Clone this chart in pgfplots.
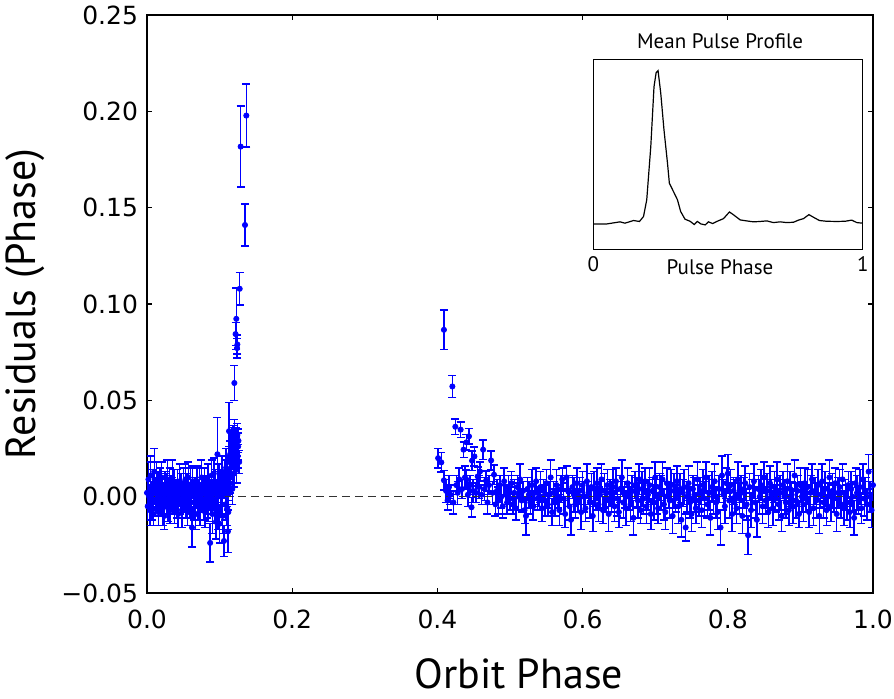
\documentclass[border=0pt]{standalone}
\usepackage{fontspec}
\setmainfont{PT Sans}
\newfontfamily\dejavu{DejaVu Sans}
\usepackage{pgfplots}
\pgfplotsset{compat=1.18}
\pgfplotsset{
  resid/.style={color=blue,only marks,mark=*,mark size=1.3pt,mark options={fill=blue,draw=blue},
    error bars/.cd,y dir=both,y explicit,
    error bar style={line width=0.75pt,color=blue},
    error mark=|,
    error mark options={color=blue,mark size=2pt,line width=0.75pt}},
}

\begin{document}
\begin{tikzpicture}
\useasboundingbox (-73.5pt,-52.5pt) rectangle (373.5pt,296.5pt);
\begin{axis}[
  width=363pt,height=289pt,scale only axis,
  xmin=0,xmax=1,ymin=-0.05,ymax=0.25,
  xtick={0,0.2,0.4,0.6,0.8,1},
  xticklabels={0.0,0.2,0.4,0.6,0.8,1.0},
  ytick={-0.05,0,0.05,0.1,0.15,0.2,0.25},
  yticklabels={−0.05,0.00,0.05,0.10,0.15,0.20,0.25},
  tick align=inside,major tick length=2.5pt,
  tick style={black,line width=0.6pt},
  axis line style={line width=0.7pt},
  ticklabel style={font=\dejavu\fontsize{12.5}{15}\selectfont},
  xticklabel style={yshift=-5pt},
  yticklabel style={xshift=-1pt},
  xlabel={Orbit Phase},
  xlabel style={font=\fontsize{21}{25}\selectfont,at={(axis description cs:0.512,-0.1644)},anchor=base},
  ylabel={Residuals (Phase)},
  ylabel style={font=\fontsize{21}{25}\selectfont,at={(axis description cs:-0.153,0.5)},anchor=base},
  clip=true,
]
% early part of the orbit
\addplot[resid] coordinates {
(0.000,0.002)+-(0,0.008) (0.001,-0.005)+-(0,0.007) (0.002,0.009)+-(0,0.009) (0.003,0.000)+-(0,0.006) (0.004,-0.007)+-(0,0.008)
(0.005,0.011)+-(0,0.010) (0.006,0.001)+-(0,0.007) (0.007,-0.003)+-(0,0.009) (0.008,0.006)+-(0,0.008) (0.009,-0.009)+-(0,0.006)
(0.010,0.013)+-(0,0.012) (0.011,0.003)+-(0,0.007) (0.012,-0.002)+-(0,0.008) (0.013,0.008)+-(0,0.010) (0.014,-0.001)+-(0,0.006)
(0.015,0.004)+-(0,0.009) (0.016,-0.008)+-(0,0.007) (0.017,0.000)+-(0,0.008) (0.018,0.006)+-(0,0.009) (0.019,-0.004)+-(0,0.006)
(0.020,0.010)+-(0,0.008) (0.021,0.002)+-(0,0.007) (0.022,-0.006)+-(0,0.009) (0.023,0.001)+-(0,0.006) (0.024,-0.010)+-(0,0.007)
(0.025,0.005)+-(0,0.008) (0.026,0.003)+-(0,0.009) (0.027,-0.002)+-(0,0.007) (0.028,0.009)+-(0,0.010) (0.029,-0.005)+-(0,0.008)
(0.030,0.000)+-(0,0.006) (0.031,0.007)+-(0,0.008) (0.032,-0.007)+-(0,0.007) (0.033,0.002)+-(0,0.009) (0.034,0.004)+-(0,0.006)
(0.035,0.009)+-(0,0.010) (0.036,-0.001)+-(0,0.008) (0.037,0.007)+-(0,0.007) (0.038,-0.006)+-(0,0.008) (0.039,0.003)+-(0,0.006)
(0.040,0.000)+-(0,0.009) (0.041,-0.004)+-(0,0.007) (0.042,0.006)+-(0,0.008) (0.043,-0.009)+-(0,0.007) (0.044,0.001)+-(0,0.006)
(0.045,0.008)+-(0,0.009) (0.046,-0.002)+-(0,0.007) (0.047,0.004)+-(0,0.008) (0.048,-0.007)+-(0,0.009) (0.049,0.002)+-(0,0.006)
(0.050,0.007)+-(0,0.008) (0.051,-0.001)+-(0,0.007) (0.052,0.000)+-(0,0.008) (0.053,0.009)+-(0,0.008) (0.054,-0.005)+-(0,0.006)
(0.055,0.003)+-(0,0.009) (0.056,-0.008)+-(0,0.007) (0.057,0.010)+-(0,0.008) (0.058,0.001)+-(0,0.006) (0.059,-0.003)+-(0,0.008)
(0.060,0.006)+-(0,0.009) (0.061,0.000)+-(0,0.007) (0.062,-0.016)+-(0,0.010) (0.063,0.008)+-(0,0.008) (0.064,0.002)+-(0,0.007)
(0.065,-0.003)+-(0,0.009) (0.066,0.004)+-(0,0.006) (0.067,-0.009)+-(0,0.008) (0.068,0.001)+-(0,0.007) (0.069,0.007)+-(0,0.009)
(0.070,-0.004)+-(0,0.008) (0.071,0.003)+-(0,0.006) (0.072,0.005)+-(0,0.010) (0.073,-0.007)+-(0,0.008) (0.074,0.000)+-(0,0.007)
(0.075,0.010)+-(0,0.009) (0.076,-0.002)+-(0,0.006) (0.077,0.002)+-(0,0.008) (0.078,-0.005)+-(0,0.007) (0.079,0.006)+-(0,0.009)
(0.080,-0.008)+-(0,0.008) (0.081,0.004)+-(0,0.007) (0.082,0.001)+-(0,0.010) (0.083,-0.003)+-(0,0.008) (0.084,0.008)+-(0,0.009)
(0.085,-0.006)+-(0,0.007) (0.086,0.003)+-(0,0.008) (0.087,-0.024)+-(0,0.010) (0.088,0.000)+-(0,0.009) (0.089,0.011)+-(0,0.008)
(0.090,-0.009)+-(0,0.010) (0.091,0.002)+-(0,0.007) (0.092,0.012)+-(0,0.008) (0.093,-0.005)+-(0,0.009) (0.094,0.004)+-(0,0.010)
(0.095,-0.013)+-(0,0.009) (0.096,0.001)+-(0,0.008) (0.097,0.022)+-(0,0.019) (0.098,-0.007)+-(0,0.010) (0.099,0.008)+-(0,0.009)
(0.100,-0.014)+-(0,0.010) (0.101,0.005)+-(0,0.008) (0.102,0.000)+-(0,0.009) (0.103,0.013)+-(0,0.008) (0.104,-0.010)+-(0,0.009)
(0.105,0.006)+-(0,0.007) (0.106,-0.023)+-(0,0.008) (0.107,0.009)+-(0,0.010) (0.108,-0.004)+-(0,0.008) (0.109,0.015)+-(0,0.010)
(0.110,0.003)+-(0,0.008) (0.1105,-0.006)+-(0,0.009) (0.111,0.012)+-(0,0.009) (0.1115,-0.018)+-(0,0.011) (0.112,-0.008)+-(0,0.009)
(0.1125,0.006)+-(0,0.008) (0.113,0.034)+-(0,0.015) (0.1135,0.018)+-(0,0.008) (0.114,0.007)+-(0,0.007) (0.1145,0.022)+-(0,0.007)
(0.115,0.010)+-(0,0.008) (0.1155,0.026)+-(0,0.008) (0.116,0.015)+-(0,0.006) (0.1165,0.029)+-(0,0.007) (0.117,0.020)+-(0,0.006)
(0.1175,0.004)+-(0,0.008) (0.118,0.024)+-(0,0.007) (0.1185,0.031)+-(0,0.006) (0.119,0.017)+-(0,0.006) (0.1195,0.027)+-(0,0.007)
(0.120,0.012)+-(0,0.007) (0.1205,0.033)+-(0,0.007) (0.121,0.022)+-(0,0.006) (0.1215,0.028)+-(0,0.006) (0.122,0.019)+-(0,0.007)
(0.1225,0.030)+-(0,0.006) (0.123,0.025)+-(0,0.006) (0.1235,0.014)+-(0,0.007) (0.124,0.027)+-(0,0.006) (0.1245,0.032)+-(0,0.006)
(0.125,0.021)+-(0,0.006) (0.1255,0.026)+-(0,0.007) (0.126,0.029)+-(0,0.006) (0.127,0.018)+-(0,0.006)
(0.1203,0.059)+-(0,0.009) (0.122,0.0844)+-(0,0.006) (0.123,0.0923)+-(0,0.016) (0.124,0.0771)+-(0,0.005) (0.1245,0.079)+-(0,0.005)
(0.1277,0.1079)+-(0,0.0084) (0.129,0.1817)+-(0,0.021) (0.1368,0.1978)+-(0,0.0164) (0.135,0.141)+-(0,0.011)
};
% later part of the orbit
\addplot[resid] coordinates {
(0.401,0.020)+-(0,0.005) (0.4054,0.0178)+-(0,0.005) (0.409,0.0866)+-(0,0.0102) (0.409,0.0085)+-(0,0.005) (0.412,0.003)+-(0,0.006)
(0.414,-0.002)+-(0,0.005) (0.416,0.005)+-(0,0.006) (0.418,0.001)+-(0,0.005) (0.4206,0.0572)+-(0,0.0056) (0.422,-0.003)+-(0,0.006)
(0.4247,0.0363)+-(0,0.004) (0.426,0.006)+-(0,0.005) (0.428,0.002)+-(0,0.006) (0.430,0.009)+-(0,0.006) (0.432,0.0348)+-(0,0.004)
(0.434,0.004)+-(0,0.005) (0.436,0.0244)+-(0,0.004) (0.438,0.010)+-(0,0.006) (0.440,0.0282)+-(0,0.004) (0.440,0.0088)+-(0,0.005)
(0.442,0.001)+-(0,0.006) (0.4435,0.0313)+-(0,0.004) (0.445,0.006)+-(0,0.005) (0.447,-0.0055)+-(0,0.005) (0.4477,0.0187)+-(0,0.005)
(0.449,0.003)+-(0,0.006) (0.451,0.0209)+-(0,0.005) (0.453,0.002)+-(0,0.005) (0.4555,0.0105)+-(0,0.005) (0.457,0.005)+-(0,0.006)
(0.4587,0.0131)+-(0,0.005) (0.461,0.001)+-(0,0.005) (0.463,0.0244)+-(0,0.005) (0.465,0.004)+-(0,0.006) (0.467,0.0083)+-(0,0.005)
(0.469,-0.003)+-(0,0.006) (0.471,0.006)+-(0,0.005) (0.474,0.0188)+-(0,0.005) (0.476,0.002)+-(0,0.006) (0.478,0.0114)+-(0,0.005)
(0.480,-0.004)+-(0,0.006)
(0.482,0.003)+-(0,0.006) (0.484,-0.002)+-(0,0.007) (0.486,0.006)+-(0,0.005) (0.488,0.000)+-(0,0.006) (0.490,-0.005)+-(0,0.006)
(0.492,0.008)+-(0,0.007) (0.494,0.001)+-(0,0.005) (0.496,-0.003)+-(0,0.006) (0.498,0.004)+-(0,0.007) (0.500,-0.001)+-(0,0.006)
(0.502,0.007)+-(0,0.006) (0.504,-0.004)+-(0,0.005) (0.506,0.002)+-(0,0.007) (0.508,-0.006)+-(0,0.006) (0.510,0.005)+-(0,0.006)
(0.512,0.000)+-(0,0.007) (0.514,0.009)+-(0,0.008) (0.516,-0.002)+-(0,0.006) (0.518,0.003)+-(0,0.005) (0.520,-0.007)+-(0,0.007)
(0.522,-0.010)+-(0,0.010) (0.524,0.004)+-(0,0.006) (0.526,0.001)+-(0,0.007) (0.528,-0.003)+-(0,0.006) (0.530,0.006)+-(0,0.008)
(0.532,-0.005)+-(0,0.007) (0.534,0.002)+-(0,0.006) (0.536,0.008)+-(0,0.007) (0.538,-0.001)+-(0,0.006) (0.540,0.000)+-(0,0.005)
(0.542,0.005)+-(0,0.008) (0.544,-0.006)+-(0,0.007) (0.546,0.003)+-(0,0.006) (0.548,-0.002)+-(0,0.008) (0.550,0.007)+-(0,0.007)
(0.552,-0.004)+-(0,0.006) (0.554,0.001)+-(0,0.007) (0.556,0.010)+-(0,0.009) (0.558,-0.008)+-(0,0.007) (0.560,0.002)+-(0,0.006)
(0.562,-0.003)+-(0,0.007) (0.564,0.006)+-(0,0.008) (0.566,0.000)+-(0,0.006) (0.568,-0.007)+-(0,0.008) (0.570,0.004)+-(0,0.007)
(0.572,0.009)+-(0,0.006) (0.574,-0.001)+-(0,0.008) (0.576,-0.009)+-(0,0.007) (0.578,0.010)+-(0,0.006) (0.580,0.003)+-(0,0.008)
(0.582,-0.005)+-(0,0.007) (0.584,-0.012)+-(0,0.008) (0.586,0.005)+-(0,0.006) (0.588,0.001)+-(0,0.009) (0.590,-0.004)+-(0,0.007)
(0.592,0.007)+-(0,0.008) (0.594,-0.002)+-(0,0.006) (0.596,0.003)+-(0,0.007) (0.598,-0.008)+-(0,0.009) (0.600,0.006)+-(0,0.007)
(0.602,0.000)+-(0,0.008) (0.604,-0.006)+-(0,0.007) (0.606,0.008)+-(0,0.009) (0.608,0.002)+-(0,0.006) (0.610,-0.003)+-(0,0.008)
(0.612,0.005)+-(0,0.007) (0.614,-0.010)+-(0,0.008) (0.616,0.004)+-(0,0.009) (0.618,-0.001)+-(0,0.006) (0.620,0.007)+-(0,0.008)
(0.622,-0.004)+-(0,0.009) (0.624,0.001)+-(0,0.007) (0.626,0.009)+-(0,0.008) (0.628,-0.007)+-(0,0.007) (0.630,0.003)+-(0,0.009)
(0.632,-0.002)+-(0,0.006) (0.634,0.006)+-(0,0.008) (0.636,-0.009)+-(0,0.009) (0.638,0.002)+-(0,0.007) (0.640,0.000)+-(0,0.008)
(0.642,0.005)+-(0,0.009) (0.644,-0.005)+-(0,0.008) (0.646,0.008)+-(0,0.007) (0.648,-0.001)+-(0,0.009) (0.650,-0.008)+-(0,0.008)
(0.652,0.004)+-(0,0.007) (0.654,0.010)+-(0,0.009) (0.656,-0.003)+-(0,0.008) (0.658,0.001)+-(0,0.007) (0.660,-0.006)+-(0,0.009)
(0.662,0.007)+-(0,0.008) (0.664,0.000)+-(0,0.007) (0.666,-0.004)+-(0,0.009) (0.668,0.003)+-(0,0.008) (0.670,-0.011)+-(0,0.009)
(0.672,0.006)+-(0,0.007) (0.674,0.002)+-(0,0.008) (0.676,-0.002)+-(0,0.009) (0.678,0.009)+-(0,0.008) (0.680,-0.007)+-(0,0.007)
(0.682,0.004)+-(0,0.009) (0.684,-0.001)+-(0,0.008) (0.686,0.008)+-(0,0.007) (0.688,-0.005)+-(0,0.009) (0.690,0.001)+-(0,0.008)
(0.692,0.006)+-(0,0.009) (0.694,-0.009)+-(0,0.008) (0.696,0.003)+-(0,0.007) (0.698,-0.003)+-(0,0.009) (0.700,0.010)+-(0,0.008)
(0.702,0.000)+-(0,0.009) (0.704,-0.006)+-(0,0.008) (0.706,0.005)+-(0,0.007) (0.708,0.002)+-(0,0.009) (0.710,0.009)+-(0,0.009)
(0.712,-0.004)+-(0,0.008) (0.714,-0.008)+-(0,0.009) (0.716,0.007)+-(0,0.008) (0.718,0.001)+-(0,0.007) (0.720,-0.002)+-(0,0.009)
(0.722,0.006)+-(0,0.008) (0.724,-0.010)+-(0,0.009) (0.726,0.003)+-(0,0.009) (0.728,-0.001)+-(0,0.007) (0.730,0.008)+-(0,0.008)
(0.732,-0.005)+-(0,0.009) (0.734,0.004)+-(0,0.008) (0.736,-0.012)+-(0,0.009) (0.738,0.002)+-(0,0.007) (0.740,0.005)+-(0,0.009)
(0.742,-0.016)+-(0,0.007) (0.744,0.000)+-(0,0.008) (0.746,0.007)+-(0,0.009) (0.748,-0.003)+-(0,0.008) (0.750,-0.009)+-(0,0.009)
(0.752,0.004)+-(0,0.007) (0.754,0.001)+-(0,0.009) (0.756,-0.006)+-(0,0.008) (0.758,0.009)+-(0,0.009) (0.760,-0.002)+-(0,0.008)
(0.762,0.003)+-(0,0.007) (0.764,-0.007)+-(0,0.009) (0.766,0.006)+-(0,0.008) (0.768,-0.001)+-(0,0.009) (0.770,0.010)+-(0,0.008)
(0.772,-0.004)+-(0,0.007) (0.774,0.002)+-(0,0.009) (0.776,-0.011)+-(0,0.009) (0.778,0.005)+-(0,0.008) (0.780,0.000)+-(0,0.009)
(0.782,0.008)+-(0,0.009) (0.784,-0.003)+-(0,0.008) (0.786,-0.008)+-(0,0.009) (0.788,0.004)+-(0,0.007) (0.790,-0.016)+-(0,0.009)
(0.792,0.011)+-(0,0.010) (0.794,0.001)+-(0,0.008) (0.796,-0.005)+-(0,0.009) (0.798,0.007)+-(0,0.008) (0.800,0.012)+-(0,0.010)
(0.802,-0.002)+-(0,0.009) (0.804,0.006)+-(0,0.008) (0.806,-0.009)+-(0,0.009) (0.808,0.003)+-(0,0.007) (0.810,0.000)+-(0,0.009)
(0.812,-0.006)+-(0,0.008) (0.814,0.009)+-(0,0.009) (0.816,-0.001)+-(0,0.008) (0.818,0.004)+-(0,0.007) (0.820,-0.010)+-(0,0.009)
(0.822,0.002)+-(0,0.008) (0.824,0.007)+-(0,0.009) (0.826,-0.004)+-(0,0.008) (0.828,-0.020)+-(0,0.010) (0.830,0.005)+-(0,0.007)
(0.832,-0.007)+-(0,0.009) (0.834,0.001)+-(0,0.008) (0.836,0.008)+-(0,0.009) (0.838,-0.003)+-(0,0.008) (0.840,-0.012)+-(0,0.009)
(0.842,0.004)+-(0,0.007) (0.844,0.000)+-(0,0.009) (0.846,0.006)+-(0,0.008) (0.848,-0.005)+-(0,0.009) (0.850,0.010)+-(0,0.008)
(0.852,-0.002)+-(0,0.007) (0.854,0.003)+-(0,0.009) (0.856,-0.008)+-(0,0.008) (0.858,0.007)+-(0,0.009) (0.860,0.001)+-(0,0.008)
(0.862,-0.006)+-(0,0.009) (0.864,0.005)+-(0,0.008) (0.866,-0.001)+-(0,0.007) (0.868,0.009)+-(0,0.009) (0.870,-0.004)+-(0,0.008)
(0.872,0.002)+-(0,0.009) (0.874,-0.010)+-(0,0.008) (0.876,0.006)+-(0,0.007) (0.878,0.000)+-(0,0.009) (0.880,-0.003)+-(0,0.008)
(0.882,0.008)+-(0,0.009) (0.884,-0.007)+-(0,0.008) (0.886,0.004)+-(0,0.009) (0.888,0.001)+-(0,0.007) (0.890,-0.005)+-(0,0.009)
(0.892,0.011)+-(0,0.008) (0.894,-0.002)+-(0,0.009) (0.896,0.003)+-(0,0.008) (0.898,-0.009)+-(0,0.007) (0.900,0.006)+-(0,0.009)
(0.902,0.000)+-(0,0.008) (0.904,-0.004)+-(0,0.009) (0.906,0.007)+-(0,0.008) (0.908,-0.001)+-(0,0.007) (0.910,0.005)+-(0,0.009)
(0.912,-0.008)+-(0,0.008) (0.914,0.002)+-(0,0.009) (0.916,0.009)+-(0,0.008) (0.918,-0.006)+-(0,0.009) (0.920,0.003)+-(0,0.007)
(0.922,-0.002)+-(0,0.009) (0.924,0.006)+-(0,0.008) (0.926,-0.010)+-(0,0.009) (0.928,0.001)+-(0,0.007) (0.930,0.008)+-(0,0.009)
(0.932,-0.003)+-(0,0.008) (0.934,0.004)+-(0,0.009) (0.936,-0.007)+-(0,0.008) (0.938,0.000)+-(0,0.007) (0.940,0.010)+-(0,0.009)
(0.942,-0.005)+-(0,0.008) (0.944,0.003)+-(0,0.009) (0.946,-0.001)+-(0,0.007) (0.948,0.007)+-(0,0.008) (0.950,-0.009)+-(0,0.009)
(0.952,0.002)+-(0,0.008) (0.954,0.005)+-(0,0.009) (0.956,-0.004)+-(0,0.007) (0.958,0.009)+-(0,0.008) (0.960,-0.006)+-(0,0.009)
(0.962,0.001)+-(0,0.008) (0.964,-0.003)+-(0,0.009) (0.966,0.006)+-(0,0.007) (0.968,-0.008)+-(0,0.008) (0.970,0.004)+-(0,0.009)
(0.972,0.000)+-(0,0.008) (0.974,-0.011)+-(0,0.009) (0.976,0.007)+-(0,0.008) (0.978,0.002)+-(0,0.009) (0.980,-0.002)+-(0,0.007)
(0.982,0.005)+-(0,0.009) (0.984,-0.006)+-(0,0.008) (0.986,0.009)+-(0,0.008) (0.988,-0.001)+-(0,0.009) (0.990,0.003)+-(0,0.007)
(0.992,-0.004)+-(0,0.008) (0.994,0.013)+-(0,0.009) (0.996,0.000)+-(0,0.008) (0.998,-0.007)+-(0,0.009) (1.000,0.006)+-(0,0.008)
};
\addplot[black!80,line width=0.5pt,dash pattern=on 4pt off 2.5pt] coordinates {(0,0) (1,0)};
\end{axis}

\begin{axis}[
  at={(223.2pt,171.9pt)},anchor=south west,
  width=134.7pt,height=95pt,scale only axis,
  xmin=0,xmax=1,ymin=0,ymax=1,
  xtick={0,1},xticklabels={0,1},ytick=\empty,
  major tick length=0pt,
  axis line style={line width=0.5pt},
  ticklabel style={font=\fontsize{10.5}{12}\selectfont},
  title={Mean Pulse Profile},
  title style={font=\fontsize{10.5}{12}\selectfont,at={(axis description cs:0.47,0.993)},anchor=base},
  xlabel={Pulse Phase},
  xlabel style={font=\fontsize{10.5}{12}\selectfont,at={(axis description cs:0.47,-0.135)},anchor=base},
]
\addplot[black,line width=0.6pt] coordinates {
(0,0.133) (0.05,0.133) (0.099,0.144) (0.117,0.137) (0.149,0.151) (0.171,0.146) (0.186,0.172)
(0.198,0.260) (0.213,0.540) (0.225,0.856) (0.233,0.930) (0.240,0.940) (0.250,0.821) (0.262,0.628)
(0.275,0.453) (0.282,0.347) (0.297,0.304) (0.312,0.260) (0.324,0.198) (0.340,0.158) (0.359,0.147)
(0.374,0.130) (0.386,0.146) (0.399,0.133) (0.415,0.128) (0.427,0.144) (0.443,0.135) (0.458,0.146)
(0.483,0.161) (0.505,0.196) (0.522,0.179) (0.545,0.154) (0.569,0.149) (0.594,0.144) (0.619,0.146)
(0.644,0.149) (0.668,0.140) (0.693,0.144) (0.718,0.140) (0.743,0.142) (0.761,0.153) (0.780,0.161)
(0.800,0.182) (0.817,0.168) (0.839,0.151) (0.866,0.147) (0.903,0.146) (0.934,0.147) (0.959,0.153)
(0.978,0.140) (1.0,0.137)
};
\end{axis}
\end{tikzpicture}
\end{document}
